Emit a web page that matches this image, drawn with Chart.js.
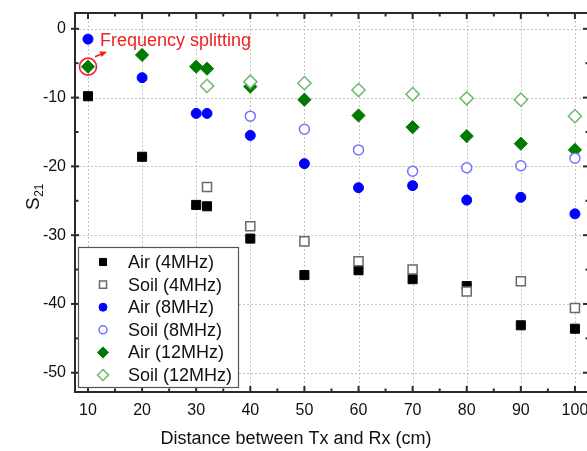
<!DOCTYPE html>
<html><head><meta charset="utf-8">
<style>html,body{margin:0;padding:0;background:#fff;overflow:hidden}</style>
<script src="https://cdn.jsdelivr.net/npm/chart.js@4.4.1/dist/chart.umd.min.js"></script>
</head><body>
<canvas id="c" width="600" height="451" style="display:block;width:600px;height:451px"></canvas>
<script>
const distances = [10, 20, 30, 32, 40, 50, 60, 70, 80, 90, 100];
const air4   = [-9.8, -18.6, -25.6, -25.8, -30.5, -35.8, -35.1, -36.4, -37.4, -43.1, -43.6];
const soil4  = [null, null, null, -23.0, -28.7, -30.9, -33.8, -35.0, -38.2, -36.7, -40.6];
const air8   = [-1.5, -7.1, -12.3, -12.3, -15.5, -19.6, -23.1, -22.8, -24.9, -24.5, -26.9];
const soil8  = [null, null, null, null, -12.7, -14.6, -17.6, -20.7, -20.2, -19.9, -18.8];
const air12  = [-5.5, -3.8, -5.5, -5.8, -8.4, -10.3, -12.6, -14.3, -15.6, -16.7, -17.6];
const soil12 = [null, null, null, -8.3, -7.7, -7.9, -8.9, -9.5, -10.1, -10.3, -12.7];
const seriesLabels = ['Air (4MHz)', 'Soil (4MHz)', 'Air (8MHz)', 'Soil (8MHz)', 'Air (12MHz)', 'Soil (12MHz)'];
const xTicks = [10, 20, 30, 40, 50, 60, 70, 80, 90, 100];
const xMinor = [15, 25, 35, 45, 55, 65, 75, 85, 95];
const yTicks = [0, -10, -20, -30, -40, -50];
const yMinor = [-5, -15, -25, -35, -45];
const xTitle = 'Distance between Tx and Rx (cm)';
const annotationText = 'Frequency splitting';

const styles = [
  {shape:'rect', fill:'#000000', stroke:'#000000', r:6.4, lr:5, bw:1, order:1},
  {shape:'rect', fill:'#ffffff', stroke:'#6a6a6a', r:6.4, lr:5, bw:1.5, order:0},
  {shape:'circle', fill:'#0000ff', stroke:'#0000ff', r:5, lr:4, bw:1, order:1},
  {shape:'circle', fill:'#ffffff', stroke:'#7272ff', r:5, lr:4, bw:1.5, order:0},
  {shape:'rectRot', fill:'#007a00', stroke:'#007a00', r:6.6, lr:5.5, bw:1, order:1},
  {shape:'rectRot', fill:'#ffffff', stroke:'#6cb86c', r:6.6, lr:5.5, bw:1.5, order:0}
];
const seriesValues = [air4, soil4, air8, soil8, air12, soil12];

function toPoints(vals){
  const out = [];
  vals.forEach((v,i)=>{ if(v!==null) out.push({x:distances[i], y:v}); });
  return out;
}

const datasets = seriesValues.map((vals,i)=>({
  label: seriesLabels[i],
  data: toPoints(vals),
  order: styles[i].order,
  pointStyle: styles[i].shape,
  pointRadius: styles[i].r,
  pointHoverRadius: styles[i].r,
  backgroundColor: styles[i].fill,
  borderColor: styles[i].stroke,
  pointBorderWidth: styles[i].bw,
  borderWidth: styles[i].bw,
  showLine: false
}));

function drawMarker(ctx, shape, x, y, r, fill, stroke, bw){
  ctx.save();
  ctx.beginPath();
  if(shape==='rect'){ const s=r*Math.SQRT1_2; ctx.rect(x-s,y-s,2*s,2*s); }
  else if(shape==='circle'){ ctx.arc(x,y,r,0,Math.PI*2); }
  else { ctx.moveTo(x-r,y); ctx.lineTo(x,y-r); ctx.lineTo(x+r,y); ctx.lineTo(x,y+r); ctx.closePath(); }
  ctx.fillStyle=fill; ctx.fill();
  ctx.lineWidth=bw; ctx.strokeStyle=stroke; ctx.stroke();
  ctx.restore();
}

const decor = {
  id:'decor',
  beforeDatasetsDraw(chart){
    const {ctx, chartArea:a, scales:{x,y}} = chart;
    ctx.save();
    ctx.strokeStyle='#c4c4c4'; ctx.lineWidth=1; ctx.setLineDash([2,2]);
    xTicks.forEach(v=>{ const p=Math.round(x.getPixelForValue(v))+0.5; ctx.beginPath(); ctx.moveTo(p,a.top); ctx.lineTo(p,a.bottom); ctx.stroke(); });
    yTicks.forEach(v=>{ const p=Math.round(y.getPixelForValue(v))+0.5; ctx.beginPath(); ctx.moveTo(a.left,p); ctx.lineTo(a.right,p); ctx.stroke(); });
    ctx.restore();
  },
  afterDatasetsDraw(chart){
    const {ctx, chartArea:a, scales:{x,y}} = chart;
    ctx.save();
    ctx.strokeStyle='#2a2a2a'; ctx.lineWidth=2;
    ctx.strokeRect(a.left, a.top, a.right-a.left, a.bottom-a.top);
    ctx.lineWidth=2;
    const tick=(x1,y1,x2,y2)=>{ctx.beginPath();ctx.moveTo(x1,y1);ctx.lineTo(x2,y2);ctx.stroke();};
    xTicks.forEach(v=>{ const p=x.getPixelForValue(v); tick(p,a.bottom,p,a.bottom-6); tick(p,a.top,p,a.top+6); });
    xMinor.forEach(v=>{ const p=x.getPixelForValue(v); tick(p,a.bottom,p,a.bottom-3.5); tick(p,a.top,p,a.top+3.5); });
    yTicks.forEach(v=>{ const p=y.getPixelForValue(v); tick(a.left-4,p,a.left+4,p); tick(a.right,p,a.right-6,p); });
    yMinor.forEach(v=>{ const p=y.getPixelForValue(v); tick(a.left,p,a.left+3.5,p); tick(a.right,p,a.right-3.5,p); });
    ctx.restore();
  },
  afterDraw(chart){
    const {ctx, scales:{x,y}} = chart;
    ctx.save();
    ctx.fillStyle='#111';
    ctx.font='18px "Liberation Sans", Arial, sans-serif';
    ctx.textAlign='center'; ctx.textBaseline='alphabetic';
    ctx.fillText(xTitle, 296, 444);
    ctx.save();
    ctx.translate(39, 210); ctx.rotate(-Math.PI/2);
    ctx.textAlign='left';
    ctx.font='19px "Liberation Sans", Arial, sans-serif';
    ctx.fillText('S', 0, 0);
    const sw = ctx.measureText('S').width;
    ctx.font='12px "Liberation Sans", Arial, sans-serif';
    ctx.fillText('21', sw+0.5, 4);
    ctx.restore();

    const lx=78, ly=247, lw=160, lh=140;
    ctx.fillStyle='#fff'; ctx.fillRect(lx,ly,lw,lh);
    ctx.strokeStyle='#555'; ctx.lineWidth=1.2; ctx.strokeRect(lx+0.5,ly+0.5,lw,lh);
    ctx.font='18px "Liberation Sans", Arial, sans-serif';
    ctx.textAlign='left'; ctx.textBaseline='middle';
    seriesLabels.forEach((t,i)=>{
      const cy = 262 + i*22.6;
      const s = styles[i];
      drawMarker(ctx, s.shape, 103, cy, s.lr, s.fill, s.stroke, s.bw);
      ctx.fillStyle='#111';
      ctx.fillText(t, 128, cy+1);
    });

    const px = x.getPixelForValue(distances[0]), py = y.getPixelForValue(air12[0]);
    ctx.strokeStyle='#f02020'; ctx.fillStyle='#f02020'; ctx.lineWidth=1.6;
    ctx.beginPath(); ctx.arc(px, py, 8.5, 0, Math.PI*2); ctx.stroke();
    const ax1=px+7, ay1=py-10, ax2=px+19, ay2=py-15;
    ctx.beginPath(); ctx.moveTo(ax1,ay1); ctx.lineTo(ax2-3,ay2+1.3); ctx.stroke();
    const ang=Math.atan2(ay2-ay1, ax2-ax1);
    ctx.beginPath();
    ctx.moveTo(ax2,ay2);
    ctx.lineTo(ax2-7*Math.cos(ang)+3*Math.sin(ang), ay2-7*Math.sin(ang)-3*Math.cos(ang));
    ctx.lineTo(ax2-7*Math.cos(ang)-3*Math.sin(ang), ay2-7*Math.sin(ang)+3*Math.cos(ang));
    ctx.closePath(); ctx.fill();
    ctx.font='18px "Liberation Sans", Arial, sans-serif';
    ctx.textBaseline='alphabetic';
    ctx.fillText(annotationText, 100, 46);
    ctx.restore();
  }
};

new Chart(document.getElementById('c'), {
  type:'scatter',
  data:{datasets},
  options:{
    responsive:false, animation:false, devicePixelRatio:1,
    layout:{padding:{top:13, right:11, left:0, bottom:0}},
    plugins:{legend:{display:false}, tooltip:{enabled:false}},
    scales:{
      x:{
        type:'linear', min:7.6, max:102.6,
        grid:{display:false}, border:{display:false},
        afterBuildTicks(s){ s.ticks = xTicks.map(v=>({value:v})); },
        afterFit(s){ s.height = 59; s.paddingLeft = 0; s.paddingRight = 0; },
        ticks:{ padding:1, color:'#111', maxRotation:0, autoSkip:false,
          font:{family:'"Liberation Sans", Arial, sans-serif', size:16} }
      },
      y:{
        type:'linear', min:-52.8, max:2.3,
        grid:{display:false}, border:{display:false},
        afterBuildTicks(s){ s.ticks = yTicks.map(v=>({value:v})); },
        afterFit(s){ s.width = 75; s.paddingTop = 0; s.paddingBottom = 0; },
        ticks:{ padding:1, color:'#111', autoSkip:false,
          font:{family:'"Liberation Sans", Arial, sans-serif', size:16} }
      }
    }
  },
  plugins:[decor]
});
</script>
</body></html>
